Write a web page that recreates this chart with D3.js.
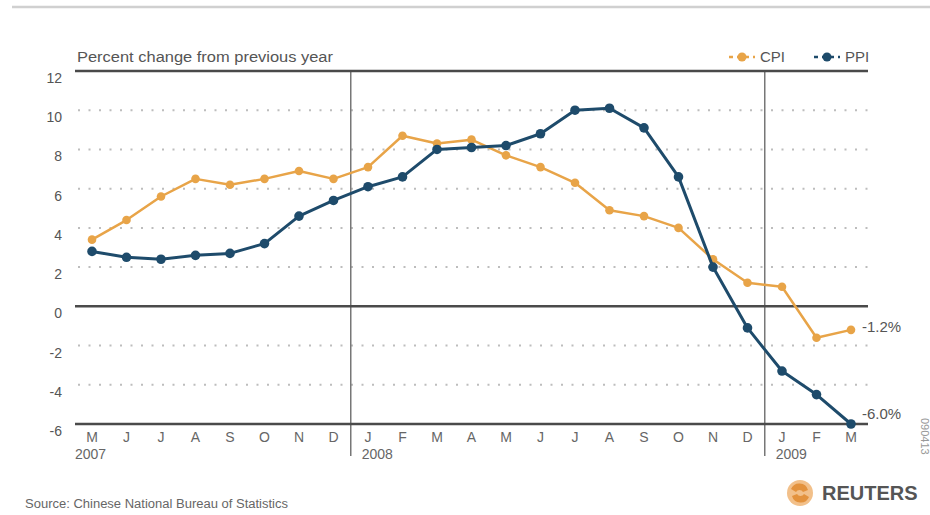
<!DOCTYPE html>
<html><head><meta charset="utf-8">
<script src="https://cdn.jsdelivr.net/npm/d3@7"></script>
<style>
html,body{margin:0;padding:0;background:#fff;}
svg{display:block;font-family:"Liberation Sans",Arial,sans-serif;}
</style></head>
<body><svg id="c" width="930" height="515"></svg>
<script>
const months = ["M","J","J","A","S","O","N","D","J","F","M","A","M","J","J","A","S","O","N","D","J","F","M"];
const years = [{label:"2007", idx:0},{label:"2008", idx:8},{label:"2009", idx:20}];
const cpi = [3.4,4.4,5.6,6.5,6.2,6.5,6.9,6.5,7.1,8.7,8.3,8.5,7.7,7.1,6.3,4.9,4.6,4.0,2.4,1.2,1.0,-1.6,-1.2];
const ppi = [2.8,2.5,2.4,2.6,2.7,3.2,4.6,5.4,6.1,6.6,8.0,8.1,8.2,8.8,10.0,10.1,9.1,6.6,2.0,-1.1,-3.3,-4.5,-6.0];
const yTicks = [12,10,8,6,4,2,0,-2,-4,-6];
const solidLines = [12,0,-6];
const endLabels = [{text:"-1.2%", series:"cpi"},{text:"-6.0%", series:"ppi"}];

const svg = d3.select("#c");
const idx = d3.range(months.length);
const x = d3.scalePoint().domain(idx).range([92, 851]);
const y = d3.scaleLinear().domain([-6, 12]).range([424, 71]);
const left = 75, right = 868;
const step = x.step();

// top border line
svg.append("line").attr("x1",12).attr("x2",930).attr("y1",7).attr("y2",7)
  .attr("stroke","#d0d0d0").attr("stroke-width",2.5);

// dotted gridlines
svg.append("g").selectAll("line").data(yTicks.filter(t=>!solidLines.includes(t))).join("line")
  .attr("x1",left+3).attr("x2",right).attr("y1",d=>y(d)).attr("y2",d=>y(d))
  .attr("stroke","#bdbdbd").attr("stroke-width",2).attr("stroke-dasharray","2,8.5");

// year dividers
const dividers = years.slice(1).map(yr => x(yr.idx) - step/2);
svg.append("g").selectAll("line").data(dividers).join("line")
  .attr("x1",d=>d).attr("x2",d=>d).attr("y1",y(12)).attr("y2",456)
  .attr("stroke","#777").attr("stroke-width",1.5);

// solid lines
svg.append("g").selectAll("line").data(solidLines).join("line")
  .attr("x1",left).attr("x2",right).attr("y1",d=>y(d)).attr("y2",d=>y(d))
  .attr("stroke","#4a4a4a").attr("stroke-width",2.5);

// y labels
svg.append("g").selectAll("text").data(yTicks).join("text")
  .attr("x",62).attr("y",d=>y(d)+12).attr("text-anchor","end")
  .attr("font-size",14).attr("fill","#555").text(d=>d);

// month labels
svg.append("g").selectAll("text").data(idx).join("text")
  .attr("x",d=>x(d)).attr("y",442).attr("text-anchor","middle")
  .attr("font-size",14).attr("fill","#666").text(d=>months[d]);

// year labels
svg.append("g").selectAll("text").data(years).join("text")
  .attr("x",(d,i)=> i===0 ? left : x(d.idx)-step/2+11).attr("y",459)
  .attr("font-size",14).attr("fill","#666").text(d=>d.label);

// title
svg.append("text").attr("x",77).attr("y",62).attr("font-size",14).attr("fill","#555")
  .attr("textLength",256).attr("lengthAdjust","spacingAndGlyphs")
  .text("Percent change from previous year");

const cpiColor = "#E8A448", ppiColor = "#1E4B6B";
function drawSeries(data, color, w, r){
  const line = d3.line().x((d,i)=>x(i)).y(d=>y(d));
  svg.append("path").datum(data).attr("d",line).attr("fill","none")
    .attr("stroke",color).attr("stroke-width",w).attr("stroke-linejoin","round");
  svg.append("g").selectAll("circle").data(data).join("circle")
    .attr("cx",(d,i)=>x(i)).attr("cy",d=>y(d)).attr("r",r).attr("fill",color);
}
drawSeries(cpi, cpiColor, 2.5, 4.3);
drawSeries(ppi, ppiColor, 3, 4.8);

// end labels
const last = months.length-1;
svg.append("g").selectAll("text").data(endLabels).join("text")
  .attr("x",x(last)+11)
  .attr("y",d=> d.series==="cpi" ? y(cpi[last])+2 : y(ppi[last])-5)
  .attr("font-size",15).attr("fill","#555").text(d=>d.text);

// legend
const legend = [{name:"CPI", color:cpiColor, x:729},{name:"PPI", color:ppiColor, x:814}];
const lg = svg.append("g").selectAll("g").data(legend).join("g").attr("transform",d=>`translate(${d.x},57)`);
lg.append("line").attr("x1",0).attr("x2",26).attr("y1",0).attr("y2",0)
  .attr("stroke",d=>d.color).attr("stroke-width",2.5).attr("stroke-dasharray","4,4");
lg.append("circle").attr("cx",13).attr("cy",0).attr("r",4.5).attr("fill",d=>d.color);
lg.append("text").attr("x",31).attr("y",5).attr("font-size",15).attr("fill","#555").text(d=>d.name);

// source
svg.append("text").attr("x",25).attr("y",508).attr("font-size",12).attr("fill","#666")
  .attr("textLength",263).attr("lengthAdjust","spacingAndGlyphs")
  .text("Source: Chinese National Bureau of Statistics");

// Reuters logo
const logo = svg.append("g").attr("transform","translate(800,493)");
logo.append("circle").attr("r",13).attr("fill","#F2C08A");
logo.append("path").attr("d","M-9,-4 A9,9 0 0 1 8,-3 L3,-1 A4,4 0 0 0 -4,-1 Z").attr("fill","#E0892F").attr("opacity",0.85);
logo.append("path").attr("d","M9,4 A9,9 0 0 1 -8,3 L-3,1 A4,4 0 0 0 4,1 Z").attr("fill","#E0892F").attr("opacity",0.85);
svg.append("text").attr("x",822).attr("y",500).attr("font-size",20).attr("font-weight","bold")
  .attr("fill","#555").text("REUTERS");

// vertical code text
svg.append("text").attr("transform","translate(921,418) rotate(90)")
  .attr("font-size",11).attr("fill","#999").text("090413");
</script></body></html>
